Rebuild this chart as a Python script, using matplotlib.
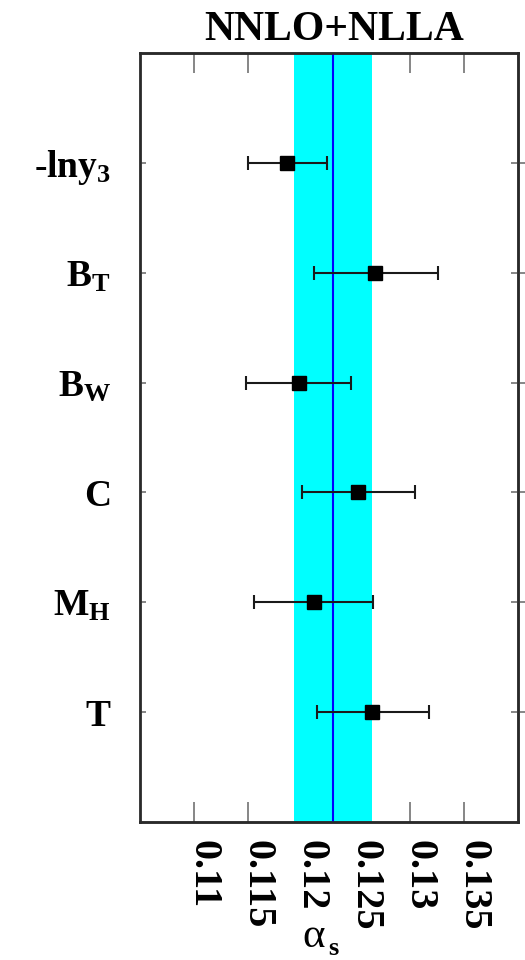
import matplotlib
matplotlib.use("Agg")
import matplotlib.pyplot as plt
import numpy as np

# Event-shape fits of alpha_s (top to bottom as drawn)
observables = ["-lny$_3$", "B$_T$", "B$_W$", "C", "M$_H$", "T"]
alpha_fit = [0.1186, 0.1268, 0.1197, 0.1252, 0.1211, 0.1265]
alpha_low = [0.1150, 0.1211, 0.1148, 0.1200, 0.1156, 0.1214]
alpha_high = [0.1223, 0.1326, 0.1245, 0.1305, 0.1266, 0.1318]

# Combined result and its uncertainty band
alpha_combined = 0.1229
band_low = 0.1193
band_high = 0.1265

x_ticks = [0.11, 0.115, 0.12, 0.125, 0.13, 0.135]
x_tick_labels = ["0.11", "0.115", "0.12", "0.125", "0.13", "0.135"]

plt.rcParams["mathtext.fontset"] = "custom"
plt.rcParams["mathtext.rm"] = "Liberation Serif:bold"
plt.rcParams["mathtext.it"] = "Liberation Serif:bold"
plt.rcParams["mathtext.bf"] = "Liberation Serif:bold"

fig = plt.figure(figsize=(5.25, 9.6), dpi=100)
ax = fig.add_axes([140 / 525, 138 / 960, 378 / 525, 769 / 960])

n = len(observables)
ypos = np.arange(n, 0, -1)  # top entry at the highest y

ax.axvspan(band_low, band_high, color="#00ffff", zorder=2, lw=0)
ax.axvline(alpha_combined, color="#0000ff", lw=1.5, zorder=3)

fit = np.array(alpha_fit)
xerr = np.vstack([fit - np.array(alpha_low), np.array(alpha_high) - fit])
ax.errorbar(fit, ypos, xerr=xerr, fmt="s", color="black", ms=10,
            ecolor="#1a1a1a", elinewidth=1.5, capsize=5, capthick=1.5,
            zorder=4)

ax.set_xlim(0.105, 0.140)
ax.set_ylim(0, n + 1)

serif_bold = dict(family="Liberation Serif", weight="bold")

ax.set_xticks(x_ticks)
ax.set_xticklabels(x_tick_labels, fontsize=29, **serif_bold)
ax.tick_params(axis="x", which="major", direction="in", length=14.4,
               width=1.1, color="#666666", top=True, bottom=True, pad=13)
for lbl in ax.get_xticklabels():
    lbl.set_rotation(-90)
    lbl.set_rotation_mode("anchor")
    lbl.set_horizontalalignment("left")
    lbl.set_verticalalignment("baseline")

ax.set_yticks(ypos)
ax.set_yticklabels(observables, fontsize=27, **serif_bold)
ax.tick_params(axis="y", which="major", direction="in", length=4.5,
               width=1.1, color="#666666", left=True, right=False, pad=21)

# right-hand ticks crossing the frame
ax_r = ax.twinx()
ax_r.set_ylim(ax.get_ylim())
ax_r.set_yticks(ypos)
ax_r.set_yticklabels([])
ax_r.tick_params(axis="y", direction="inout", length=10, width=1.1,
                 color="#666666")

for a in (ax, ax_r):
    for sp in a.spines.values():
        sp.set_linewidth(1.8)
        sp.set_color("#2a2a2a")
ax.spines["left"].set_color("#555555")

ax.set_title("NNLO+NLLA", fontsize=30, x=0.513, pad=9, **serif_bold)

# axis title: upright alpha with a lowered "s"
fig.text(302 / 525, 13 / 960, "α", fontsize=31, family="Liberation Serif",
         ha="left", va="baseline")
fig.text(328 / 525, 5 / 960, "s", fontsize=19, family="Liberation Serif",
         weight="bold", ha="left", va="baseline")

fig.savefig("out.png", dpi=100, facecolor="white")
